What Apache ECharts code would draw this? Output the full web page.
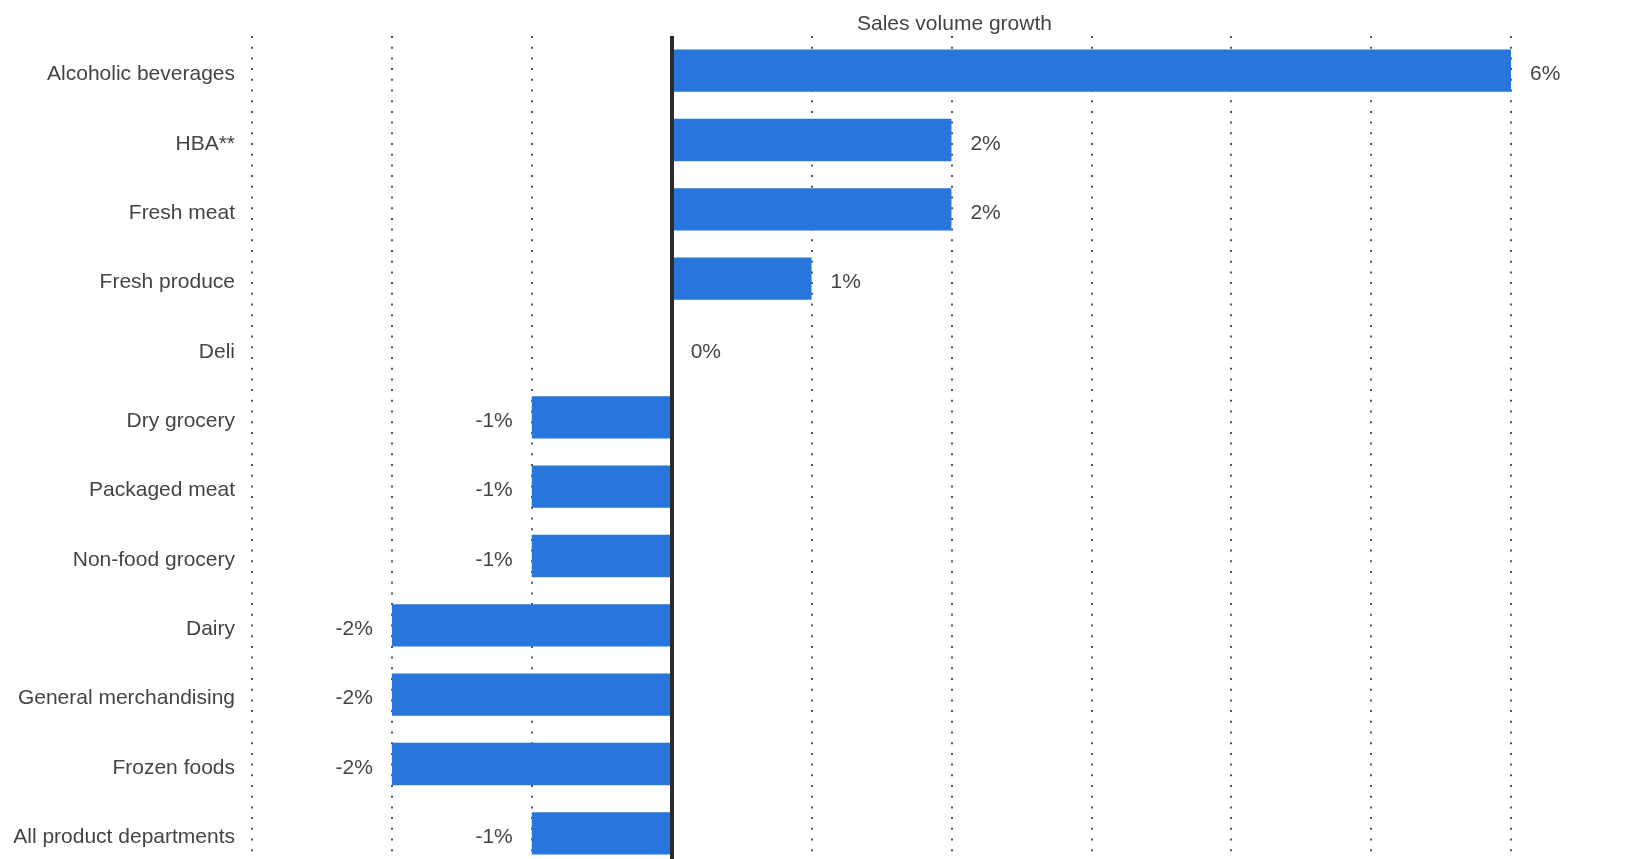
<!DOCTYPE html>
<html>
<head>
<meta charset="utf-8">
<script src="https://cdn.jsdelivr.net/npm/echarts@6/dist/echarts.min.js"></script>
<style>
  html, body { margin: 0; padding: 0; background: #ffffff; }
  #chart { width: 1633px; height: 859px; }
</style>
</head>
<body>
<div id="chart"></div>
<script>
// Product departments, top to bottom
const categories = [
  'Alcoholic beverages',
  'HBA**',
  'Fresh meat',
  'Fresh produce',
  'Deli',
  'Dry grocery',
  'Packaged meat',
  'Non-food grocery',
  'Dairy',
  'General merchandising',
  'Frozen foods',
  'All product departments'
];

// Sales volume growth in percent
const growth = [6, 2, 2, 1, 0, -1, -1, -1, -2, -2, -2, -1];

const axisMin = -3;
const axisMax = 6;
const axisStep = 1;

const textColor = '#444444';
const barColor = '#2876dc';
const fontFamily = 'Arial, "Liberation Sans", sans-serif';

const barData = growth.map(v => ({
  value: v,
  label: { position: v < 0 ? 'left' : 'right' }
}));

const chart = echarts.init(document.getElementById('chart'));
chart.setOption({
  animation: false,
  title: {
    text: 'Sales volume growth',
    left: 852,
    top: 9,
    textStyle: {
      fontFamily: fontFamily,
      fontSize: 21,
      fontWeight: 'normal',
      color: textColor
    }
  },
  // the plot runs a little past the bottom edge of the page
  grid: {
    left: 252, right: 122, top: 36, height: 832,
    containLabel: false,
    outerBoundsMode: 'none'
  },
  xAxis: {
    type: 'value',
    min: axisMin,
    max: axisMax,
    interval: axisStep,
    axisLine: { show: false },
    axisTick: { show: false },
    axisLabel: { show: false },
    splitLine: {
      show: true,
      lineStyle: { color: '#555555', width: 2, type: [2, 8.7] }
    }
  },
  yAxis: {
    type: 'category',
    data: categories,
    inverse: true,
    axisLine: { show: false, onZero: false },
    axisTick: { show: false },
    splitLine: { show: false },
    axisLabel: {
      margin: 17,
      verticalAlign: 'top',
      lineHeight: 8,
      fontFamily: fontFamily,
      fontSize: 21,
      color: textColor
    }
  },
  series: [{
    type: 'bar',
    data: barData,
    barCategoryGap: '39%',
    itemStyle: { color: barColor },
    label: {
      show: true,
      distance: 19,
      offset: [0, 4],
      formatter: '{c}%',
      fontFamily: fontFamily,
      fontSize: 21,
      color: textColor
    },
    markLine: {
      silent: true,
      symbol: 'none',
      label: { show: false },
      lineStyle: { color: '#2b2b2b', width: 4, type: 'solid' },
      data: [{ xAxis: 0 }]
    }
  }]
});
</script>
</body>
</html>
